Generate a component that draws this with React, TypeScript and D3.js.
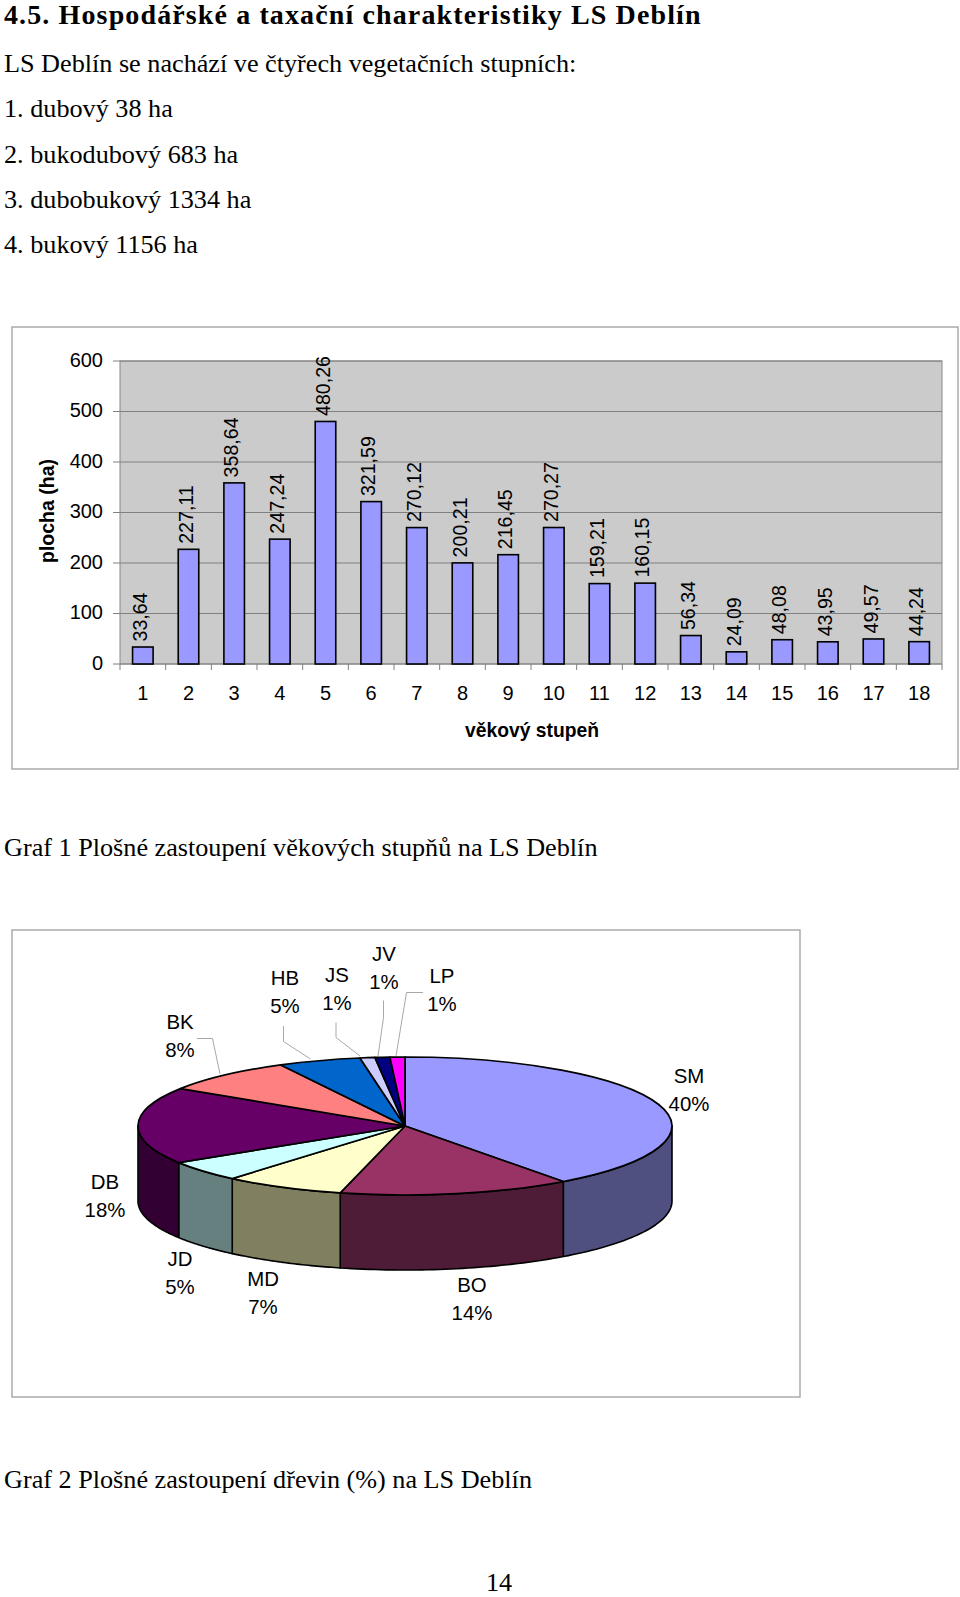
import { arc, line, pie, range, scaleBand, scaleLinear } from "d3";

// Text of the page
const heading = "4.5. Hospodářské a taxační charakteristiky LS Deblín";
const bodyLines = [
  "LS Deblín se nachází ve čtyřech vegetačních stupních:",
  "1. dubový 38 ha",
  "2. bukodubový 683 ha",
  "3. dubobukový 1334 ha",
  "4. bukový 1156 ha",
];
const bodyBaselines = [72, 117, 163, 208, 253];
const caption1 = "Graf 1 Plošné zastoupení věkových stupňů na LS Deblín";
const caption2 = "Graf 2 Plošné zastoupení dřevin (%) na LS Deblín";

// Graf 1
const ageClasses = ["1", "2", "3", "4", "5", "6", "7", "8", "9", "10", "11", "12", "13", "14", "15", "16", "17", "18"];
const areas = [33.64, 227.11, 358.64, 247.24, 480.26, 321.59, 270.12, 200.21, 216.45, 270.27, 159.21, 160.15, 56.34, 24.09, 48.08, 43.95, 49.57, 44.24];
const areaTicks = [0, 100, 200, 300, 400, 500, 600];

// Graf 2
const species = ["SM", "BO", "MD", "JD", "DB", "BK", "HB", "JS", "JV", "LP"];
const shares = [39.9, 14, 7.3, 4.9, 18, 8.2, 5, 0.9, 0.9, 0.9];
const shareLabels = ["40%", "14%", "7%", "5%", "18%", "8%", "5%", "1%", "1%", "1%"];
const topColors = ["#9999ff", "#993366", "#ffffcc", "#ccffff", "#660066", "#ff8080", "#0066cc", "#ccccff", "#000080", "#ff00ff"];
const sideColors = ["#4f4f80", "#4f1c38", "#808060", "#668080", "#330033", "#804040", "#003366", "#666680", "#000040", "#800080"];
const labelX = [689, 472, 263, 180, 105, 180, 285, 337, 384, 442];
const labelY = [1083, 1292, 1286, 1266, 1189, 1029, 985, 982, 961, 983];
const leaders = [
  { species: "BK", path: "M197,1038.5 L212.5,1038.5 L220,1074" },
  { species: "HB", path: "M283.5,1026 L283.5,1041.5 L310.5,1059" },
  { species: "JS", path: "M336,1022.5 L336,1037.5 L360,1056" },
  { species: "JV", path: "M383.5,1000.5 L383.5,1017.5 L378,1056" },
  { species: "LP", path: "M423,992.5 L406.5,992.5 L396,1056" },
];

const sans = "'Liberation Sans', Arial, sans-serif";
const serif = "'Liberation Serif', 'Times New Roman', serif";

function BarChart() {
  const plot = { left: 120, right: 942, top: 361, bottom: 664 };
  const x = scaleBand<string>().domain(ageClasses).range([plot.left, plot.right]).paddingInner(0.55).paddingOuter(0.275);
  const y = scaleLinear().domain([0, 600]).range([plot.bottom, plot.top]);
  const step = x.step();
  const edges = range(ageClasses.length + 1).map((i) => plot.left + i * step);

  return (
    <g fontFamily={sans} fill="#000">
      <rect x={12} y={327} width={946} height={442} fill="#fff" stroke="#a6a6a6" strokeWidth={1.4} />
      <rect x={plot.left} y={plot.top} width={plot.right - plot.left} height={plot.bottom - plot.top} fill="#cbcbcb" stroke="#8a8a8a" strokeWidth={1} />

      {areaTicks.map((t) => (
        <g key={t}>
          <line x1={113} x2={plot.right} y1={y(t)} y2={y(t)} stroke="#808080" strokeWidth={1} />
          <text x={103} y={y(t) - 1.5} dy=".35em" textAnchor="end" fontSize={20}>{t}</text>
        </g>
      ))}
      {edges.map((e) => (
        <line key={e} x1={e} x2={e} y1={plot.bottom} y2={plot.bottom + 6} stroke="#808080" strokeWidth={1} />
      ))}

      {ageClasses.map((c, i) => {
        const cx = x(c)! + x.bandwidth() / 2;
        return (
          <g key={c}>
            <rect x={x(c)} y={y(areas[i])} width={x.bandwidth()} height={plot.bottom - y(areas[i])} fill="#9999ff" stroke="#000" strokeWidth={1.6} />
            <text transform={`translate(${cx + 4},${y(areas[i]) - 5.5}) rotate(-90)`} fontSize={19.6}>
              {areas[i].toFixed(2).replace(".", ",")}
            </text>
            <text x={cx} y={700} textAnchor="middle" fontSize={20}>{c}</text>
          </g>
        );
      })}

      <text transform="translate(54,511) rotate(-90)" textAnchor="middle" fontSize={19.5} fontWeight="bold">plocha (ha)</text>
      <text x={532} y={737} textAnchor="middle" fontSize={19.3} fontWeight="bold">věkový stupeň</text>
    </g>
  );
}

function PieChart() {
  const cx = 405;
  const cy = 1126;
  const rx = 267;
  const ry = 69;
  const depth = 75;
  const slices = pie<number>().sort(null)(shares);
  const topArc = arc<any>().innerRadius(0).outerRadius(rx);
  const edge = line();

  const sidePath = (a0: number, a1: number) => {
    const from = Math.max(a0, Math.PI / 2);
    const to = Math.min(a1, (3 * Math.PI) / 2);
    if (to <= from) return null;
    const angles = range(41).map((i) => from + ((to - from) * i) / 40);
    const upper = angles.map((a) => [cx + rx * Math.sin(a), cy - ry * Math.cos(a)] as [number, number]);
    const lower = upper.map(([px, py]) => [px, py + depth] as [number, number]).reverse();
    return edge([...upper, ...lower]) + "Z";
  };

  return (
    <g fontFamily={sans} fill="#000">
      <rect x={12} y={930} width={788} height={467} fill="#fff" stroke="#a6a6a6" strokeWidth={1.4} />

      {slices.map((s, i) => {
        const d = sidePath(s.startAngle, s.endAngle);
        return d && <path key={species[i]} d={d} fill={sideColors[i]} stroke="#000" strokeWidth={1.6} strokeLinejoin="round" />;
      })}
      <g transform={`translate(${cx},${cy}) scale(1,${ry / rx})`}>
        {slices.map((s, i) => (
          <path key={species[i]} d={topArc(s)!} fill={topColors[i]} stroke="#000" strokeWidth={1.7} vectorEffect="non-scaling-stroke" strokeLinejoin="round" />
        ))}
      </g>

      {leaders.map((l) => (
        <path key={l.species} d={l.path} fill="none" stroke="#a8a8a8" strokeWidth={1} />
      ))}
      {species.map((s, i) => (
        <text key={s} textAnchor="middle" fontSize={20.4}>
          <tspan x={labelX[i]} y={labelY[i]}>{s}</tspan>
          <tspan x={labelX[i]} y={labelY[i] + 28}>{shareLabels[i]}</tspan>
        </text>
      ))}
    </g>
  );
}

export default function App() {
  return (
    <svg width={960} height={1597} viewBox="0 0 960 1597" style={{ position: "absolute", left: 0, top: 0, background: "#fff" }}>
      <g fontFamily={serif} fill="#000">
        <text x={4} y={24} fontSize={28} fontWeight="bold" letterSpacing={1.12}>{heading}</text>
        {bodyLines.map((t, i) => (
          <text key={t} x={4} y={bodyBaselines[i]} fontSize={26.2}>{t}</text>
        ))}
        <text x={4} y={856} fontSize={26.2}>{caption1}</text>
        <text x={4} y={1488} fontSize={26.2}>{caption2}</text>
        <text x={499} y={1591} textAnchor="middle" fontSize={26.2}>14</text>
      </g>
      <BarChart />
      <PieChart />
    </svg>
  );
}
